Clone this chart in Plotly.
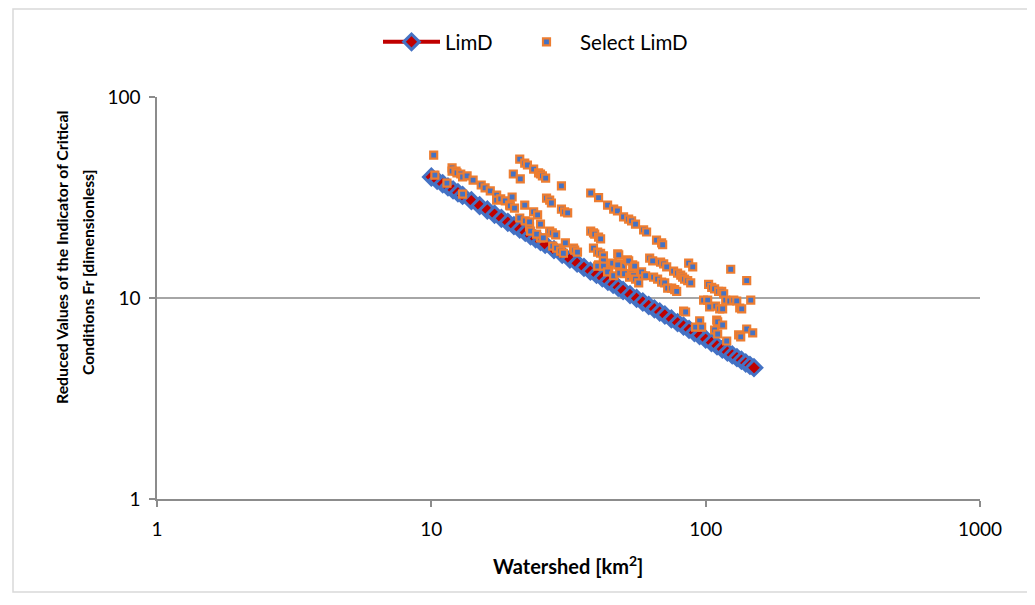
import plotly.graph_objects as go

# LimD line (watershed area km2, reduced Fr)
limd_area = [10, 10.5, 11, 11.5, 12, 12.5, 13, 14, 15, 16, 17, 18, 19, 20, 21, 22, 23, 24, 25, 26,
             28, 30, 32, 34, 36, 38, 40, 42, 44, 46, 48, 50, 53, 56, 59, 62, 65, 68, 71, 75,
             79, 83, 87, 91, 95, 100, 105, 110, 115, 120, 125, 130, 135, 140, 145, 150]
limd_fr = [40.0, 38.5, 37.0, 35.7, 34.5, 33.4, 32.4, 30.5, 28.8, 27.4, 26.1, 24.9, 23.8, 22.9, 22.0, 21.2, 20.4, 19.7, 19.1, 18.5,
           17.4, 16.5, 15.6, 14.9, 14.2, 13.6, 13.1, 12.6, 12.1, 11.7, 11.3, 10.9, 10.4, 9.96, 9.55, 9.18, 8.83, 8.52, 8.23, 7.87,
           7.54, 7.25, 6.98, 6.73, 6.50, 6.24, 6.00, 5.78, 5.57, 5.38, 5.21, 5.05, 4.90, 4.75, 4.62, 4.50]

# Select LimD points
sel_area = [10.2, 10.3, 11.4, 13.0,
            11.9, 11.9, 12.3, 12.4, 12.8, 13.0, 13.5, 14.2, 15.2, 15.7, 16.4, 17.3, 17.3, 17.9, 18.6, 19.3,
            19.4, 20.1, 19.7, 21.9, 21.0, 22.0, 22.8, 22.8, 23.6, 24.4, 19.9, 21.1,
            21.0, 21.9, 22.4, 23.6, 24.6, 25.0, 25.4, 26.1, 29.8,
            38.1, 40.7, 43.9, 46.2, 47.7, 50.2, 52.4, 53.7, 55.5, 59.4, 60.9, 66.2, 69.1, 69.7,
            26.3, 27.0, 27.4, 29.8, 30.6, 31.4, 25.0, 25.0, 27.0, 27.6, 23.0, 24.2, 25.6, 28.4, 30.8,
            33.0, 33.3, 34.1, 27.7, 28.6, 29.6, 30.3, 38.1, 39.0, 39.4, 40.7, 41.4, 39.0, 40.4, 41.4,
            42.4, 40.7, 42.4, 44.3, 45.8, 47.8, 48.2, 48.2, 49.8, 51.9, 54.2, 54.6, 52.8, 40.4, 42.4,
            47.8, 52.4, 55.1, 43.9, 46.2, 48.6, 50.6, 52.8, 53.7, 54.6, 55.5, 57.0, 58.9, 62.5, 64.1,
            68.5, 70.3, 72.1, 76.4, 79.0, 81.1, 82.4, 83.8, 86.0, 88.2, 86.7, 89.7, 123.4, 141.1,
            58.4, 60.4, 64.6, 66.8, 69.1, 70.9, 72.7, 75.2, 77.1, 78.4,
            102.5, 105.2, 107.8, 111.5, 114.4, 116.3, 98.3, 101.7, 103.4, 108.8, 112.5, 115.3,
            118.3, 122.4, 126.6, 129.8, 133.1, 135.3, 146.0, 83.1, 84.5, 95.1, 91.9, 96.7,
            109.7, 110.6, 115.3, 107.8, 110.6, 119.3, 131.9, 134.2, 141.1, 148.4]
sel_fr = [51.4, 40.9, 37.3, 32.9,
          44.4, 42.8, 42.8, 41.9, 41.4, 40.0, 40.5, 38.6, 36.5, 35.3, 34.1, 32.5, 30.7, 31.1, 30.4, 29.0,
          28.7, 28.0, 31.8, 29.0, 25.0, 24.2, 22.6, 23.9, 26.8, 25.9, 41.4, 39.1,
          49.1, 46.9, 45.9, 43.8, 41.9, 41.4, 40.5, 39.5, 36.1,
          33.3, 31.6, 29.0, 27.7, 27.1, 25.3, 24.7, 24.2, 23.3, 21.8, 21.3, 19.4, 18.8, 18.4,
          31.4, 30.7, 29.7, 27.7, 26.8, 26.5, 23.3, 19.9, 21.5, 21.1, 21.5, 20.8, 19.9, 20.6, 18.8,
          17.7, 17.3, 16.9, 18.1, 17.7, 17.1, 16.7, 21.5, 21.1, 20.8, 20.1, 19.7, 17.7, 16.9, 16.7,
          16.2, 14.6, 15.3, 13.9, 14.9, 16.6, 16.4, 14.8, 14.4, 15.5, 14.6, 13.3, 12.9, 14.4, 14.4,
          14.6, 15.3, 14.4, 13.5, 12.9, 13.3, 13.2, 12.7, 13.2, 12.9, 12.4, 11.9, 12.9, 15.8, 15.3,
          15.1, 14.8, 14.3, 13.6, 13.3, 13.0, 12.7, 12.4, 12.2, 11.9, 14.9, 14.3, 13.9, 12.2,
          13.5, 12.9, 12.7, 12.4, 12.0, 11.9, 11.2, 11.2, 11.0, 10.8,
          11.7, 11.3, 11.1, 10.8, 10.8, 10.5, 9.77, 9.77, 9.02, 9.12, 8.82, 8.82,
          9.77, 9.66, 9.77, 9.66, 8.92, 8.82, 9.77, 8.61, 8.52, 7.69, 7.17, 7.17,
          7.77, 7.60, 7.34, 6.93, 6.62, 6.11, 6.55, 6.40, 7.01, 6.70]

x_ticks = [1, 10, 100, 1000]
y_ticks = [1, 10, 100]

FONT = "Lato"
BLUE = "#4472C4"
RED = "#C00000"
ORANGE = "#ED7D31"

# plot area in figure px (page body adds an 8px offset)
L, R, T, B = 149, 63, 89, 114
W, H = 1035, 605
PW, PH = W - L - R, H - T - B


def px_x(fx):
    return (fx - L) / PW


def px_y(fy):
    return (H - B - fy) / PH


fig = go.Figure()
fig.add_trace(go.Scatter(
    x=limd_area, y=limd_fr, name="LimD", mode="lines+markers", legend="legend",
    line=dict(color=RED, width=4),
    marker=dict(symbol="diamond", size=12, color=RED, line=dict(color=BLUE, width=3)),
))
fig.add_trace(go.Scatter(
    x=sel_area, y=sel_fr, name="Select LimD", mode="markers", legend="legend2",
    marker=dict(symbol="square", size=7, color=BLUE, line=dict(color=ORANGE, width=2.2)),
))

leg_common = dict(orientation="h", yanchor="middle", xanchor="left",
                  font=dict(family=FONT, size=20.5), itemwidth=57, bgcolor="rgba(0,0,0,0)")

fig.update_layout(
    width=W, height=H,
    margin=dict(l=L, r=R, t=T, b=B),
    paper_bgcolor="white", plot_bgcolor="white",
    font=dict(family=FONT, size=19, color="#000000"),
    showlegend=True,
    legend=dict(x=px_x(370), y=px_y(34), **leg_common),
    legend2=dict(x=px_x(505), y=px_y(34), **leg_common),
    shapes=[dict(type="rect", xref="paper", yref="paper",
                 x0=px_x(5), x1=px_x(1020), y0=px_y(584), y1=px_y(1),
                 line=dict(color="#D9D9D9", width=1.5), fillcolor="rgba(0,0,0,0)", layer="below")],
    annotations=[
        dict(text="<b>Watershed [km<sup>2</sup>]</b>", xref="paper", yref="paper",
             x=px_x(560), y=px_y(557), xanchor="center", yanchor="middle", showarrow=False,
             font=dict(family=FONT, size=20)),
        dict(text="<b>Reduced Values of the Indicator of Critical</b>", xref="paper", yref="paper",
             x=px_x(53), y=px_y(250), xanchor="center", yanchor="middle", showarrow=False,
             textangle=-90, font=dict(family=FONT, size=15.8)),
        dict(text="<b>Conditions Fr [dimensionless]</b>", xref="paper", yref="paper",
             x=px_x(79), y=px_y(264), xanchor="center", yanchor="middle", showarrow=False,
             textangle=-90, font=dict(family=FONT, size=15.8)),
    ],
)
fig.update_xaxes(
    type="log", range=[0, 3], tickvals=x_ticks, ticktext=[str(v) for v in x_ticks],
    showgrid=False, showline=True, linecolor="#8C8C8C", linewidth=1.5,
    ticks="outside", ticklen=6, tickcolor="#8C8C8C", tickwidth=1.5,
    ticklabelstandoff=6, zeroline=False,
)
fig.update_yaxes(
    type="log", range=[0, 2], tickvals=y_ticks, ticktext=[str(v) for v in y_ticks],
    showgrid=True, gridcolor="#A6A6A6", gridwidth=1.5,
    showline=True, linecolor="#8C8C8C", linewidth=1.5,
    ticks="outside", ticklen=6, tickcolor="#8C8C8C", tickwidth=1.5,
    ticklabelstandoff=5, zeroline=False,
)

fig.write_html("out.html")
